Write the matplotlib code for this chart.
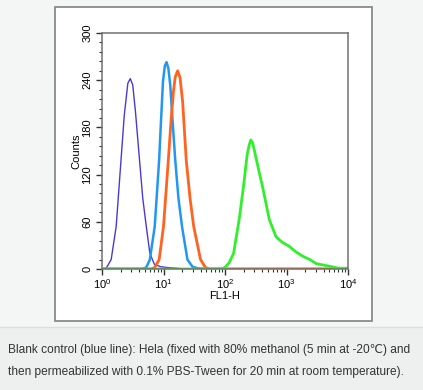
import numpy as np
import matplotlib.pyplot as plt
from matplotlib.patches import Rectangle
from matplotlib.lines import Line2D
from matplotlib.ticker import LogLocator, MultipleLocator, NullFormatter

plt.rcParams['font.family'] = ['Liberation Sans', 'DejaVu Sans']

# histogram outlines (FL1-H, Counts)
blank_x = [1.0, 1.17, 1.41, 1.70, 2.04, 2.30, 2.63, 2.88, 3.16, 3.5, 4.07, 4.6, 5.25, 6.0,
           7.1, 8.9, 11.2, 15.8, 22, 10000]
blank_y = [0, 1, 12, 54, 139, 195, 236, 242, 234, 200, 139, 90, 54, 20,
           6, 3, 2, 1, 0, 0]

iso_x = [1.0, 4.5, 5.25, 6.0, 7.2, 8.5, 9.2, 9.8, 10.5, 11.2, 12.0, 12.9, 14.0, 15.5,
         17.5, 20, 24.5, 29.5, 35.5, 50, 10000]
iso_y = [0, 0, 2, 12, 54, 139, 195, 238, 258, 263, 255, 233, 190, 139,
         90, 54, 12, 3, 1, 0, 0]

low_x = [1.0, 6.3, 7.2, 8.5, 10, 12, 13.3, 14.5, 15.5, 17, 18.6, 20.5, 23.4, 27,
         31, 40, 48, 56, 10000]
low_y = [0, 0, 2, 12, 54, 139, 190, 225, 244, 252, 243, 212, 139, 90,
         54, 12, 2, 0, 0]

ab_x = [1.0, 85, 100, 117, 138, 170, 200, 229, 248, 263, 282, 302, 355, 407, 525, 676, 850,
        1100, 1410, 1860, 2400, 3020, 3980, 5370, 7080, 10000]
ab_y = [0, 0, 2, 8, 20, 63, 105, 145, 158, 164, 160, 150, 125, 105, 63, 41, 34,
        29, 22, 16, 12, 7, 5, 3, 1, 1]

caption = ["Blank control (blue line): Hela (fixed with 80% methanol (5 min at -20\u2103) and",
           "then permeabilized with 0.1% PBS-Tween for 20 min at room temperature)."]

fig = plt.figure(figsize=(4.23, 3.9), dpi=100)
fig.patch.set_facecolor('#f4f5f5')

# caption band and white card
fig.add_artist(Rectangle((0, 0), 1, 63 / 390, transform=fig.transFigure,
                         facecolor='#eeefef', edgecolor='none', zorder=0))
fig.add_artist(Line2D([0, 1], [63 / 390, 63 / 390], transform=fig.transFigure,
                      color='#dddddd', lw=1, zorder=1))
fig.add_artist(Rectangle((55 / 423, 69 / 390), 317 / 423, 314 / 390, transform=fig.transFigure,
                         facecolor='white', edgecolor='#8a8a8a', lw=1.3, zorder=1))

ax = fig.add_axes([102 / 423, 121 / 390, 246 / 423, 236 / 390])
ax.set_zorder(2)
ax.set_facecolor('white')

ax.plot(blank_x, blank_y, color='#4a3ad0', lw=1.0)
ax.plot(iso_x, iso_y, color='#2196f3', lw=1.8)
ax.plot(low_x, low_y, color='#ff6320', lw=2.0)
ax.plot(ab_x, ab_y, color='#2ff02a', lw=2.0)

ax.set_xscale('log')
ax.set_xlim(1, 10000)
ax.set_ylim(0, 300)
ax.xaxis.set_major_locator(LogLocator(base=10))
ax.xaxis.set_minor_locator(LogLocator(base=10, subs=np.arange(2, 10)))
ax.xaxis.set_minor_formatter(NullFormatter())
ax.yaxis.set_major_locator(MultipleLocator(60))
ax.yaxis.set_minor_locator(MultipleLocator(12))

for s in ax.spines.values():
    s.set_color('#707070')
    s.set_linewidth(1.1)
ax.tick_params(which='major', length=4, width=1, color='#333333', labelsize=8, direction='out')
ax.tick_params(which='minor', length=2.5, width=0.8, color='#333333', direction='out')
ax.tick_params(axis='y', pad=3)
ax.tick_params(axis='x', pad=2)
for lab in ax.get_yticklabels():
    lab.set_rotation(90)
    lab.set_va('center')

ax.set_ylabel('Counts', fontsize=8, labelpad=1)
ax.set_xlabel('FL1-H', fontsize=8, labelpad=0)

fig.text(8 / 423, 1 - 350 / 390, caption[0], fontsize=8.6, color='#333333', va='center')
fig.text(8 / 423, 1 - 372 / 390, caption[1], fontsize=8.6, color='#333333', va='center')

fig.savefig('out.png', dpi=100, facecolor=fig.get_facecolor())
